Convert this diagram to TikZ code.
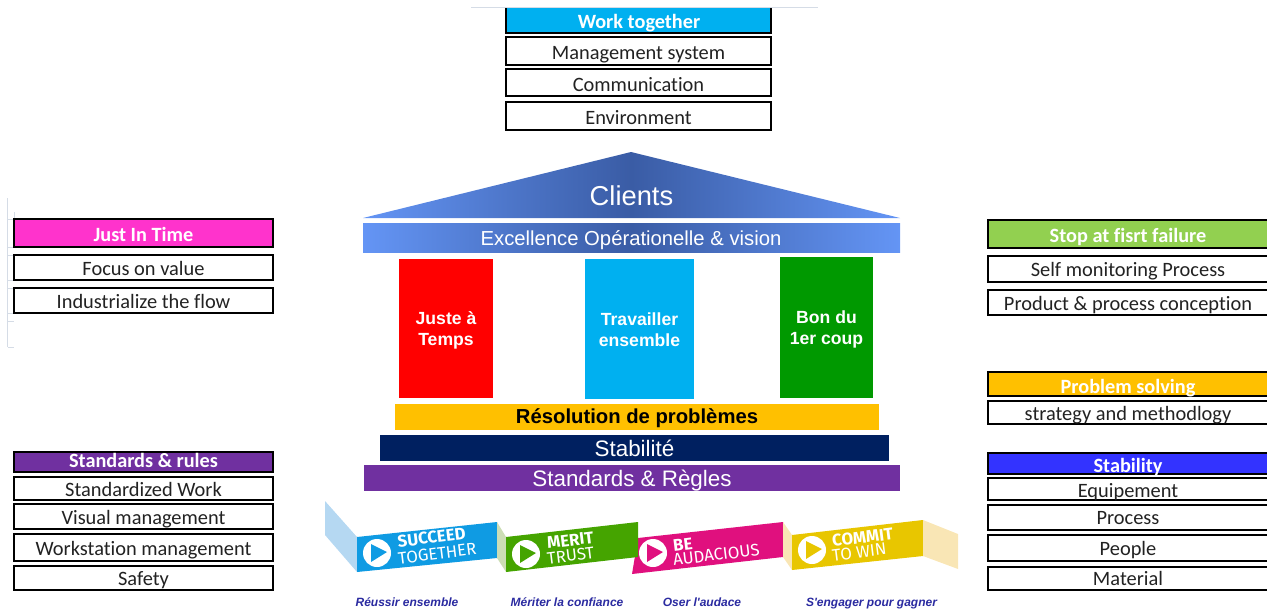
\documentclass[tikz,border=0pt]{standalone}
\usepackage{fontspec}
\setmainfont[RawFeature={-liga}]{Carlito}
\newfontfamily\arialf{Liberation Sans}
\newfontfamily\ribf{Fira Sans}
\definecolor{blueA}{HTML}{00B0F0}
\definecolor{pinkA}{HTML}{FF33CC}
\definecolor{greenA}{HTML}{92D050}
\definecolor{greenB}{HTML}{009900}
\definecolor{amberA}{HTML}{FFC000}
\definecolor{purpleA}{HTML}{7030A0}
\definecolor{stabA}{HTML}{3333FF}
\definecolor{navyA}{HTML}{002060}
\definecolor{houseL}{HTML}{6495F5}
\definecolor{houseM}{HTML}{3A5CA5}
\definecolor{ribA}{HTML}{0F9BE3}
\definecolor{ribAl}{HTML}{B5D8F2}
\definecolor{ribB}{HTML}{45A400}
\definecolor{ribBl}{HTML}{CCDDB5}
\definecolor{ribC}{HTML}{E0107E}
\definecolor{ribD}{HTML}{E8C600}
\definecolor{ribDl}{HTML}{F9E6B5}
\definecolor{capt}{HTML}{2A2AA0}
\definecolor{gridl}{HTML}{D5DCE6}
\definecolor{inkA}{HTML}{222222}
\tikzset{
  x=0.75pt,y=-0.75pt,
  cell/.style={draw=black,line width=1.3pt,fill=white,inner sep=0pt,text=inkA,text height=14.5pt,text depth=2.5pt,font=\fontsize{15.3}{17}\selectfont},
  head/.style={cell,text=white,font=\fontsize{15.2}{17}\selectfont\bfseries},
  rowtxt/.style={inner sep=0pt,text=inkA,text height=13.5pt,text depth=3pt,font=\fontsize{15.3}{17}\selectfont},
  headtxt/.style={rowtxt,text=white,font=\fontsize{15.2}{17}\selectfont\bfseries},
  slab/.style={inner sep=0pt,text=white,text height=14pt,text depth=2pt,font=\arialf\fontsize{16.8}{19}\selectfont},
  pillarbox/.style={inner sep=0pt},
  pillar/.style={inner sep=0pt,text=white,align=center,font=\arialf\bfseries\fontsize{13.2}{16}\selectfont},
  captxt/.style={inner sep=0pt,anchor=base,text=capt,font=\arialf\bfseries\itshape\fontsize{9}{10}\selectfont},
  ribbig/.style={inner sep=0pt,anchor=west,text=white,rotate=7,font=\ribf\bfseries\fontsize{12.6}{14}\selectfont},
  ribsmall/.style={inner sep=0pt,anchor=west,text=white,rotate=7,font=\ribf\fontsize{12.6}{14}\selectfont},
  gridline/.style={draw=gridl,line width=0.6pt},
}
% \bx{name}{x0}{y0}{x1}{y1}{style}{text}
\newcommand{\bx}[7]{\node[#6,minimum width=#4*0.75pt-#2*0.75pt,minimum height=#5*0.75pt-#3*0.75pt] (#1) at ({(#2+#4)/2},{(#3+#5)/2}) {#7};}
\newcommand{\playbtn}[4]{%
  \fill[white] (#2,#3) circle (14);
  \fill[#4] (#2-6,#3-9) -- (#2+10,#3-1) -- (#2-6,#3+9) -- cycle;
  \coordinate (#1) at (#2,#3);}
\begin{document}
\begin{tikzpicture}
\useasboundingbox (0,0) rectangle (1267,611);
% faint grid remnants
\draw[gridline] (471,7.5) -- (818,7.5);
\draw[gridline] (7.5,198) -- (7.5,347);
\draw[gridline] (14,212) -- (14,219);
\foreach \yy in {219,247,255,280,288,313,321,347} {\draw[gridline] (7.5,\yy) -- (14,\yy);}
% top table
\fill[blueA] (506,8) rectangle (771,33);
\draw[black,line width=1.3pt] (506,8) -- (506,33) -- (771,33) -- (771,8);
\node[headtxt] (wt) at (639,21.5) {Work together};
\bx{ms}{506}{37}{771}{65}{cell}{Management system}
\bx{com}{506}{69}{771}{96}{cell,line width=1pt,text height=15.5pt}{Communication}
\bx{env}{506}{102}{771}{130}{cell,line width=1pt}{Environment}
% left tables
\bx{jit}{14}{219}{273}{247}{head,fill=pinkA}{Just In Time}
\bx{fv}{14}{255}{273}{280}{cell}{Focus on value}
\bx{ifl}{14}{288}{273}{313}{cell}{Industrialize the flow}
\bx{sr}{14}{452}{273}{472}{head,fill=purpleA,text height=10.5pt,text depth=3pt}{Standards \& rules}
\bx{sw}{14}{477}{273}{500}{cell}{Standardized Work}
\bx{vm}{14}{504}{273}{529}{cell}{Visual management}
\bx{wm}{14}{534}{273}{561}{cell}{Workstation management}
\bx{saf}{14}{566}{273}{590}{cell,text height=13pt}{Safety}
% right tables
\fill[greenA] (988,220) rectangle (1267,248);
\draw[black,line width=1.3pt] (1267,220) -- (988,220) -- (988,248) -- (1267,248);
\node[headtxt] (sf) at (1128,235) {Stop at fisrt failure};
\draw[black,line width=1pt,fill=white] (1267,256) -- (988,256) -- (988,282) -- (1267,282);
\node[rowtxt] (smp) at (1128,269) {Self monitoring Process};
\draw[black,line width=1pt,fill=white] (1267,290) -- (988,290) -- (988,315) -- (1267,315);
\node[rowtxt] (ppc) at (1128,303) {Product \& process conception};
\fill[amberA] (988,372) rectangle (1267,396);
\draw[black,line width=1.3pt] (1267,372) -- (988,372) -- (988,396) -- (1267,396);
\node[headtxt] (ps) at (1128,386) {Problem solving};
\draw[black,line width=1.3pt,fill=white] (1267,401) -- (988,401) -- (988,424) -- (1267,424);
\node[rowtxt] (stm) at (1128,413) {strategy and methodlogy};
\fill[stabA] (988,453) rectangle (1267,474);
\draw[black,line width=1.3pt] (1267,453) -- (988,453) -- (988,474) -- (1267,474);
\node[headtxt] (stb) at (1128,465) {Stability};
\draw[black,line width=1pt,fill=white] (1267,478) -- (988,478) -- (988,500) -- (1267,500);
\node[rowtxt] (eq) at (1128,490) {Equipement};
\draw[black,line width=1pt,fill=white] (1267,505) -- (988,505) -- (988,530) -- (1267,530);
\node[rowtxt] (pr) at (1128,517) {Process};
\draw[black,line width=1pt,fill=white] (1267,535) -- (988,535) -- (988,561) -- (1267,561);
\node[rowtxt] (pe) at (1128,548) {People};
\draw[black,line width=1pt,fill=white] (1267,567) -- (988,567) -- (988,590) -- (1267,590);
\node[rowtxt] (mat) at (1128,578) {Material};
% house
\shade[left color=houseL,right color=houseL,middle color=houseM] (363,218) -- (631,152) -- (900,218) -- cycle;
\node[inner sep=0pt,text=white,font=\arialf\fontsize{20.5}{23}\selectfont] (cl) at (631.5,196) {Clients};
\shade[left color=houseL,right color=houseL,middle color=houseM] (363,223) rectangle (900,252);
\node[inner sep=0pt,text=white,font=\arialf\fontsize{15.2}{18}\selectfont] (ex) at (631,240) {Excellence Opérationelle \& vision};
\bx{jt}{399}{259}{493}{398}{pillarbox,fill=red}{}
\node[pillar] (jtl) at (446,330.5) {Juste à\\Temps};
\bx{te}{585}{259}{694}{399}{pillarbox,fill=blueA}{}
\node[pillar] (tel) at (639.5,329.5) {Travailler\\ensemble};
\bx{bc}{780}{257}{873}{398}{pillarbox,fill=greenB}{}
\node[pillar] (bcl) at (826.5,329.5) {Bon du\\1er coup};
\bx{rp}{395}{404}{879}{430}{fill=amberA,inner sep=0pt,text=black,text height=12.5pt,text depth=2.5pt,font=\arialf\bfseries\fontsize{15.2}{17}\selectfont}{Résolution de problèmes}
\bx{st}{380}{435}{889}{461}{slab,fill=navyA,text height=15pt}{Stabilité}
\bx{sg}{364}{465}{900}{491}{slab,fill=purpleA}{Standards \& Règles}
% ribbons
\fill[ribAl] (325,501) -- (357,537) -- (357,572) -- (325,535) -- cycle;
\fill[ribA] (357,537) -- (497,522) -- (497,558) -- (357,572) -- cycle;
\playbtn{pa}{377}{553}{ribA}
\node[ribbig] (ra) at (397.5,541.5) {SUCCEED};
\node[ribsmall] (rb) at (398,558.5) {TOGETHER};
\fill[ribBl] (497,522) -- (506,537) -- (506,572) -- (497,558) -- cycle;
\fill[ribC] (638,538) -- (783,522) -- (783,557) -- (632,574) -- cycle;
\fill[ribB] (506,537) -- (638,522) -- (638,557) -- (506,572) -- cycle;
\playbtn{pb}{526}{554}{ribB}
\node[ribbig] (rc) at (547,543) {MERIT};
\node[ribsmall] (rd) at (547,558.5) {TRUST};
\playbtn{pc}{653}{553}{ribC}
\node[ribbig] (re) at (673,546) {BE};
\node[ribsmall] (rf) at (673,560) {AUDACIOUS};
\fill[ribDl] (783,522) -- (792,535) -- (792,570) -- (783,557) -- cycle;
\fill[ribD] (792,535) -- (923,520) -- (923,556) -- (792,570) -- cycle;
\playbtn{pd}{812}{550}{ribD}
\node[ribbig] (rg) at (832,541) {COMMIT};
\node[ribsmall] (rh) at (832,555.5) {TO WIN};
\fill[ribDl] (923,520) -- (958,534) -- (958,569) -- (923,556) -- cycle;
% captions
\node[captxt] (ca) at (407,606.5) {Réussir ensemble};
\node[captxt] (cb) at (567,606.5) {Mériter la confiance};
\node[captxt] (cc) at (702,606.5) {Oser l'audace};
\node[captxt] (cd) at (871.5,606.5) {S'engager pour gagner};
\end{tikzpicture}
\end{document}
